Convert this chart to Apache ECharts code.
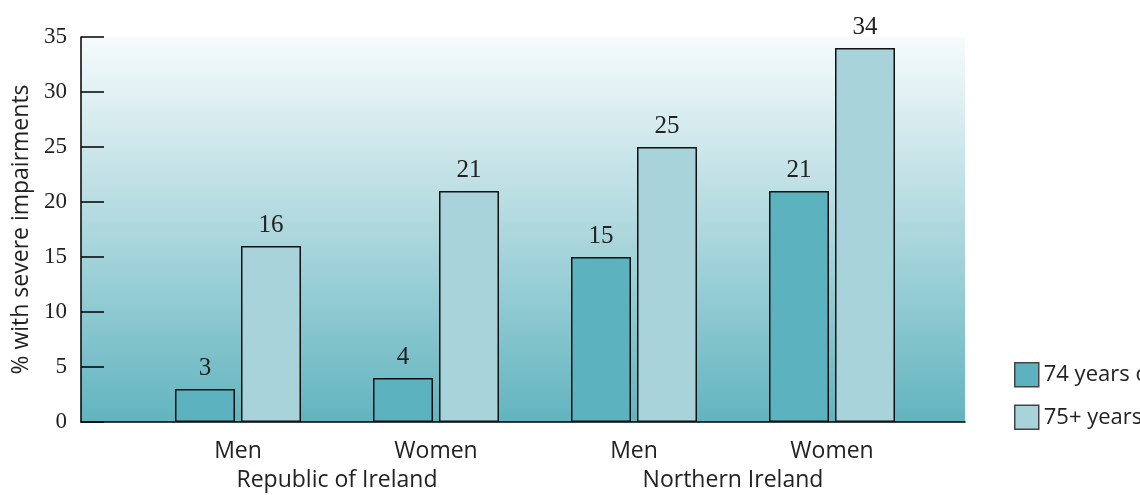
<!DOCTYPE html>
<html>
<head>
<meta charset="utf-8">
<script src="https://cdn.jsdelivr.net/npm/echarts@6/dist/echarts.min.js"></script>
<style>
  html, body { margin: 0; padding: 0; background: #fff; }
  #chart { width: 1140px; height: 495px; }
</style>
</head>
<body>
<div id="chart"></div>
<script>
const categories = ['Men', 'Women', 'Men', 'Women']
const groups = ['Republic of Ireland', 'Northern Ireland']
const seriesNames = ['74 years or under', '75+ years']
const youngerValues = [3, 4, 15, 21]
const olderValues = [16, 21, 25, 34]
const yTicks = { min: 0, max: 35, interval: 5 }

const numFont = 'Liberation Serif'
const textFont = 'Open Sans'

const chart = echarts.init(document.getElementById('chart'))

const barLabel = {
  show: true,
  position: 'top',
  distance: 8,
  fontFamily: numFont,
  fontSize: 25,
  color: '#222'
}

const option = {
  animation: false,
  grid: [
    {
      left: 81, right: 175, top: 37, bottom: 73,
      show: true,
      borderWidth: 0,
      backgroundColor: new echarts.graphic.LinearGradient(0, 0, 0, 1, [
        { offset: 0, color: '#f6fbfc' },
        { offset: 0.5, color: '#aed8de' },
        { offset: 1, color: '#62b4bf' }
      ])
    },
    { left: 139, right: 209, top: 37, bottom: 73 }
  ],
  xAxis: [
    {
      gridIndex: 0, type: 'value', min: 0, max: 1,
      axisLine: { show: true, lineStyle: { color: '#000', width: 1.5 } },
      axisTick: { show: false }, axisLabel: { show: false }, splitLine: { show: false }
    },
    {
      gridIndex: 1, type: 'category', data: categories,
      axisLine: { show: false }, axisTick: { show: false },
      axisLabel: { margin: 18, fontFamily: textFont, fontSize: 23, color: '#222' }
    },
    {
      gridIndex: 1, type: 'category', data: groups, position: 'bottom', offset: 29,
      axisLine: { show: false }, axisTick: { show: false },
      axisLabel: { margin: 18, fontFamily: textFont, fontSize: 23, color: '#222' }
    }
  ],
  yAxis: [
    {
      gridIndex: 0, type: 'value', min: yTicks.min, max: yTicks.max, interval: yTicks.interval,
      name: '% with severe impairments',
      nameLocation: 'middle',
      nameGap: 46,
      nameTextStyle: { fontFamily: textFont, fontSize: 23, color: '#222' },
      axisLine: { show: true, lineStyle: { color: '#000', width: 1.5 } },
      axisTick: { show: true, inside: true, length: 23, lineStyle: { color: '#000', width: 1.5 } },
      axisLabel: { margin: 14, fontFamily: numFont, fontSize: 23, color: '#222' },
      splitLine: { show: false }
    },
    {
      gridIndex: 1, type: 'value', min: yTicks.min, max: yTicks.max, interval: yTicks.interval,
      show: false
    }
  ],
  legend: {
    orient: 'vertical',
    left: 1009,
    top: 357,
    icon: 'rect',
    itemWidth: 24,
    itemHeight: 24,
    itemGap: 17,
    itemStyle: { borderColor: '#444', borderWidth: 1.5 },
    textStyle: { fontFamily: textFont, fontSize: 22, color: '#222' },
    data: seriesNames
  },
  series: [
    {
      name: seriesNames[0],
      type: 'bar',
      xAxisIndex: 1, yAxisIndex: 1,
      barWidth: 60,
      barGap: '10%',
      itemStyle: { color: '#5cb3bf', borderColor: '#111', borderWidth: 1.5 },
      label: barLabel,
      data: youngerValues
    },
    {
      name: seriesNames[1],
      type: 'bar',
      xAxisIndex: 1, yAxisIndex: 1,
      barWidth: 60,
      barGap: '10%',
      itemStyle: { color: '#a8d3da', borderColor: '#111', borderWidth: 1.5 },
      label: barLabel,
      data: olderValues
    }
  ]
}

chart.setOption(option)
</script>
</body>
</html>
